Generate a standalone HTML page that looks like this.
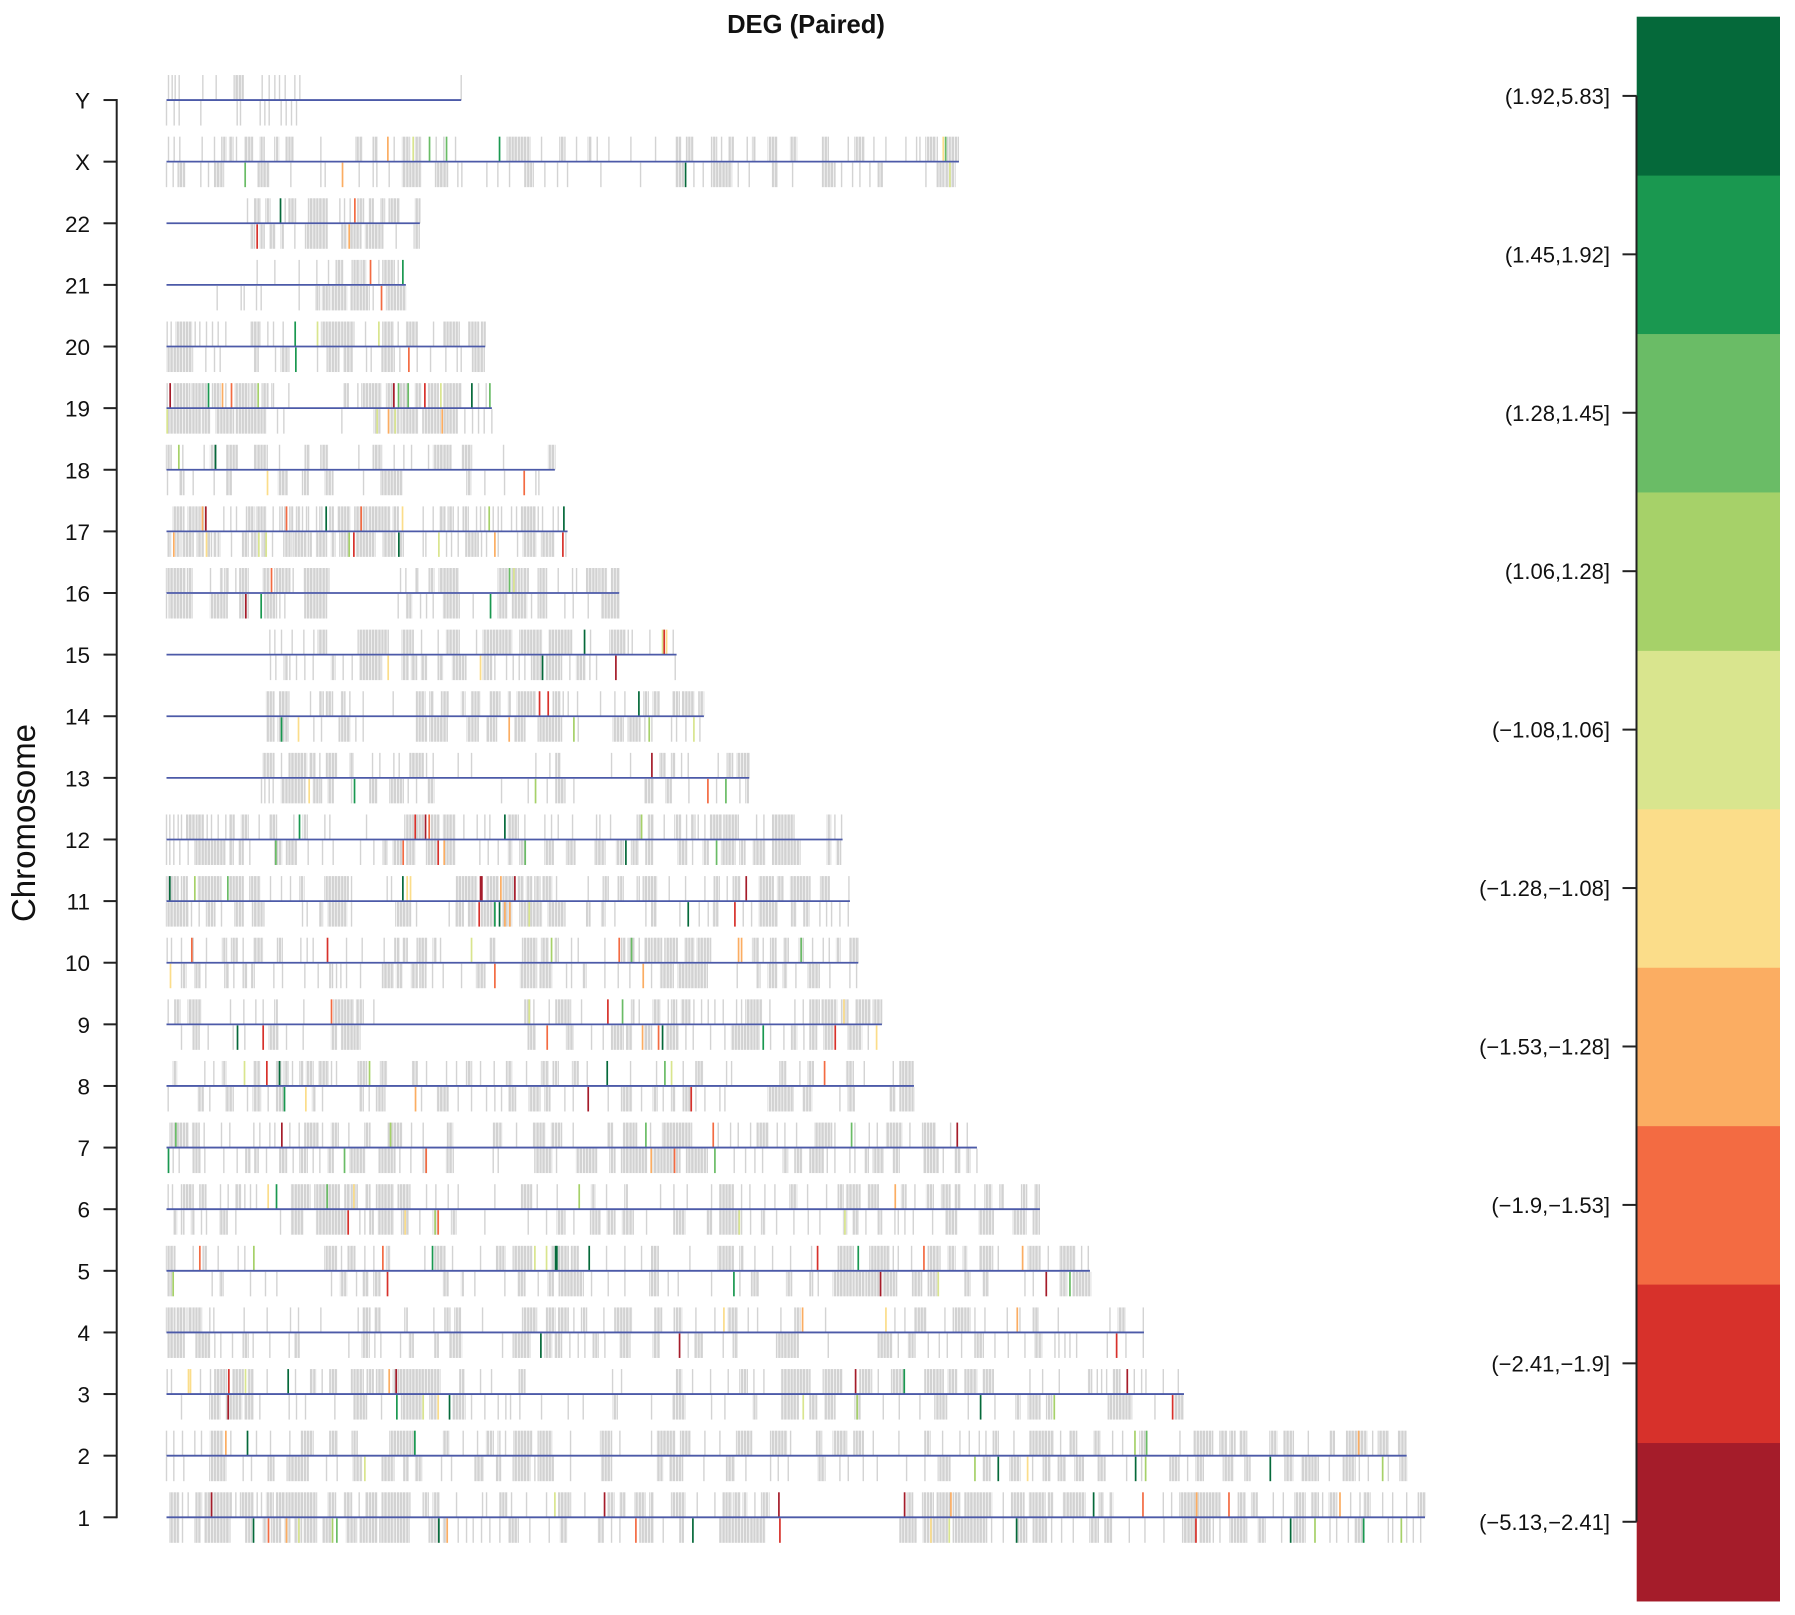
<!DOCTYPE html>
<html lang="en">
<head>
<meta charset="utf-8">
<title>DEG (Paired)</title>
<style>
html,body{margin:0;padding:0;background:#fff;}
svg{display:block;font-family:"Liberation Sans",Arial,sans-serif;}
</style>
</head>
<body>
<svg id="chart" xmlns="http://www.w3.org/2000/svg" width="1795" height="1615" viewBox="0 0 1795 1615">
<defs>
<pattern id="cluster-stripes" patternUnits="userSpaceOnUse" x="0" y="0" width="9.3" height="10">
<rect x="0" y="0" width="2.3" height="10" fill="#d2d2d2"/>
<rect x="2.9" y="0" width="2.6" height="10" fill="#d2d2d2"/>
<rect x="6.2" y="0" width="2.5" height="10" fill="#d2d2d2"/>
</pattern>
</defs>
</svg>
<script>
// Genomic positions are in bins of about 66 kb. A number is one gene, a pair is a dense gene cluster [start, end].
// Hits are [bin, log fold change].
const chromosomes = ['1','2','3','4','5','6','7','8','9','10','11','12','13','14','15','16','17','18','19','20','21','22','X','Y'];
const chrLengths = [3775,3720,3052,2932,2770,2620,2431,2242,2146,2075,2050,2028,1748,1612,1530,1358,1203,1165,976,956,718,760,2377,884];
const foldBreaks = [-5.13,-2.41,-1.9,-1.53,-1.28,-1.08,1.06,1.28,1.45,1.92,5.83];
const legendLabels = ['(\u22125.13,\u22122.41]','(\u22122.41,\u22121.9]','(\u22121.9,\u22121.53]','(\u22121.53,\u22121.28]','(\u22121.28,\u22121.08]','(\u22121.08,1.06]','(1.06,1.28]','(1.28,1.45]','(1.45,1.92]','(1.92,5.83]'];
const palette = ['#a51c2a','#d7312b','#f36b42','#fbad62','#fbdd8a','#d9e58e','#a6d169','#6abc66','#1a9850','#05693a'];

const chr1Up = [[10,37],48,65,[88,105],[115,130],[140,195],208,[222,260],272,285,[300,320],[330,355],[360,450],[485,507],[533,555],578,[598,630],[647,660],[665,730],[770,785],[800,818],870,948,960,[1000,1020],1035,1080,1140,[1175,1212],1255,[1325,1342],[1360,1375],[1405,1435],[1450,1460],[1515,1555],1592,1645,[1670,1695],[1702,1720],[1730,1740],1765,[1785,1807],[2222,2238],[2268,2300],[2312,2350],[2360,2380],[2395,2475],2510,[2535,2572],[2588,2635],[2645,2658],[2690,2755],[2798,2810],[2830,2838],2990,3015,[3040,3090],[3095,3160],[3215,3235],[3255,3272],3320,3350,[3385,3415],[3435,3455],3468,[3488,3510],3552,3580,[3592,3610],3648,3678,3720,[3755,3775]];
const chr1UpHits = [[135,-3],[1165,0],[1314,-3],[1837,-3],[2214,-3],[2353,-1.4],[2781,3],[2929,-1.7],[3090,-1.4],[3187,-1.7],[3520,-1.4]];
const chr1Down = [[10,37],48,[85,100],[115,190],[238,255],[290,300],[315,342],[355,370],[385,405],[412,450],[470,495],[540,570],[580,600],[605,630],[640,680],[685,728],[788,815],[830,840],875,900,920,945,970,1000,[1028,1055],1090,1148,[1182,1200],[1295,1310],1335,1360,[1420,1460],1490,[1540,1550],[1660,1700],[1705,1745],[1750,1795],[2200,2248],[2270,2315],[2320,2345],[2360,2460],2475,2510,[2555,2580],[2600,2640],2655,2685,2720,[2770,2795],[2815,2835],2888,2935,2992,[3048,3085],[3100,3130],3140,3160,[3190,3240],[3275,3295],3345,[3380,3415],3490,3510,3545,[3565,3588],3665,3678,3720,3740,3762];
const chr1DownHits = [[261,3],[306,-1.7],[360,-1.4],[397,0],[498,1.2],[511,1.35],[817,3],[842,-1.4],[1408,-1.7],[1579,3],[1840,-2.1],[2293,-1.2],[2348,0],[2550,3],[3088,-2.1],[3372,3],[3445,1.2],[3591,1.7],[3704,1.2]];

const chr2Up = [0,22,48,85,105,[132,168],193,270,312,370,[405,440],[490,512],[557,572],[670,740],[830,847],890,933,[960,980],[995,1000],1017,[1042,1095],[1115,1155],1212,[1302,1335],1360,1455,[1472,1525],[1542,1570],1615,1660,[1710,1755],[1812,1860],1872,[1950,1965],[2000,2040],[2062,2090],2120,2197,[2275,2290],2328,2380,2408,2438,2458,[2480,2495],2542,[2590,2660],2682,[2710,2730],[2782,2800],2838,2868,[2920,2935],3040,[3083,3095],[3100,3138],[3160,3180],[3190,3205],[3220,3240],[3310,3330],[3352,3380],3425,[3490,3503],[3540,3575],[3580,3600],3618,[3635,3665],[3695,3718]];
const chr2UpHits = [[178,-1.4],[243,3],[745,1.7],[2905,1.2],[2940,1.35],[3576,-1.4]];
const chr2Down = [0,22,52,[130,178],230,255,[305,322],[362,425],480,512,[560,585],[647,682],[712,725],[747,765],825,855,[925,950],[990,1002],[1040,1090],1105,[1115,1160],1212,[1305,1335],[1472,1488],[1510,1548],1612,[1680,1703],1738,1812,1835,1865,[1955,1975],2020,2045,2090,2132,2220,2275,[2315,2350],[2450,2470],[2530,2560],2598,[2630,2650],[2675,2695],[2725,2750],[2795,2815],2880,2925,[3010,3037],3063,[3088,3110],[3170,3200],[3235,3250],[3355,3378],[3405,3455],3488,[3530,3565],3578,3605,3665,[3700,3720]];
const chr2DownHits = [[595,0],[2425,1.2],[2495,3],[2583,-1.2],[2907,3],[2937,1.2],[3311,3],[3648,1.2]];

const chr3Up = [2,15,102,132,[145,180],[200,230],[245,260],302,387,[432,447],467,[490,510],[555,590],[602,620],[630,650],[680,688],[695,780],[785,820],[880,892],942,975,[1058,1075],1338,1365,[1530,1545],1578,1632,1685,[1720,1742],1762,1792,[1845,1930],[1970,2025],[2080,2115],2135,[2175,2210],[2275,2295],[2300,2330],[2345,2370],[2395,2430],[2450,2480],2590,2628,2678,[2765,2775],2792,2805,2820,[2840,2860],2903,2925,2938,2990,3035];
const chr3UpHits = [[66,-1.2],[72,-1.2],[187,-2.1],[237,0],[365,3],[668,-1.4],[689,-3],[2067,-3],[2213,1.7],[2882,-3]];
const chr3Down = [45,[130,160],180,[190,225],[235,260],280,368,390,417,505,[562,600],645,[705,765],[790,810],[860,895],915,955,995,1018,1032,1060,1125,1205,1250,[1340,1352],1455,[1520,1555],1635,1675,[1760,1770],[1845,1895],[1930,1950],[1975,2005],[2065,2080],2150,2198,2260,[2305,2340],2405,2485,[2548,2560],[2585,2620],[2640,2655],[2825,2895],2965,[3025,3050]];
const chr3DownHits = [[185,-3],[691,1.7],[770,0],[815,-1.2],[849,3],[1910,0],[2072,1.2],[2442,3],[2663,1.2],[3018,-2.1]];

const chr4Up = [[0,25],[32,58],[65,75],[80,105],130,142,233,302,372,396,463,575,[590,610],[625,640],[715,722],802,[835,850],[865,882],948,[1068,1110],[1140,1165],[1175,1205],1222,[1245,1260],1312,[1345,1395],[1465,1485],[1523,1545],1588,1645,[1685,1712],1745,1773,1843,[1885,1900],1977,2185,2215,[2245,2278],2335,[2360,2410],2425,2455,2522,2560,[2600,2615],2675,2830,[2855,2875],2930];
const chr4UpHits = [[1672,-1.2],[1908,-1.4],[2158,-1.2],[2552,-1.4]];
const chr4Down = [[5,53],[88,130],145,163,198,[230,245],260,310,368,[385,398],547,[587,608],625,643,702,[728,740],[805,815],[850,885],1008,[1040,1090],[1135,1155],[1165,1185],1210,1235,1255,[1280,1295],1315,[1360,1390],[1460,1478],1565,[1585,1607],1670,[1700,1712],[1830,1895],1985,[2135,2175],2195,[2225,2245],2285,2318,2342,2385,[2425,2450],2485,2525,2575,[2605,2625],2665,2677,2695,2710,2730,2822,2878,2930];
const chr4DownHits = [[1123,3],[1539,-3],[2850,-2.1]];

const chr5Up = [[0,25],80,[110,120],155,215,235,[475,510],525,[545,565],595,622,[660,670],775,[805,835],858,942,[990,1015],[1040,1095],[1155,1165],[1175,1205],[1215,1235],1320,1375,1425,[1455,1475],1570,[1655,1700],[1720,1730],1765,1818,1872,1935,[2015,2060],[2110,2168],2180,2195,2235,[2285,2320],[2345,2365],[2390,2400],[2440,2478],2495,[2585,2620],2645,[2680,2725],2745,2765];
const chr5UpHits = [[100,-1.7],[262,1.2],[649,-1.7],[798,1.7],[1105,0],[1140,0],[1167,3],[1171,3],[1268,3],[1953,-2.1],[2075,1.7],[2272,-1.7],[2568,-1.4]];
const chr5Down = [[5,15],137,[160,170],252,297,331,495,[522,540],570,[590,605],[622,640],[830,845],[885,890],925,1015,[1055,1075],1115,[1145,1160],[1178,1250],1275,1325,1375,[1450,1475],1505,1535,1635,1720,[1755,1775],[1860,1875],[1930,1938],1955,[2000,2060],[2065,2095],[2100,2140],[2150,2190],[2238,2265],[2285,2310],[2395,2410],[2450,2465],2575,2600,[2680,2700],[2720,2772]];
const chr5DownHits = [[20,1.2],[663,-2.1],[1702,1.7],[2142,-3],[2315,0],[2639,-3],[2710,1.35]];

const chr6Up = [5,18,[45,80],[100,118],162,185,[208,222],235,252,270,[375,430],[445,480],[485,518],[535,550],[555,572],[598,610],[630,680],[695,730],780,808,845,875,985,[1065,1095],1112,1172,[1275,1285],1320,[1375,1382],1482,1522,1562,1635,[1660,1700],1725,1750,1795,1825,[1870,1890],1923,1980,[2015,2030],[2040,2080],[2105,2135],[2205,2218],2245,[2280,2300],[2325,2350],[2365,2380],2425,[2455,2475],[2500,2510],[2565,2580],[2605,2618]];
const chr6UpHits = [[305,-1.2],[330,1.7],[482,1.35],[562,-1.2],[1238,1.2],[2186,-1.4]];
const chr6Down = [[22,30],[45,52],[75,82],105,120,[160,182],208,342,[375,410],[450,540],580,595,[610,620],[635,680],[705,725],760,[800,812],[855,868],955,1085,1140,[1172,1195],1222,[1272,1300],[1322,1345],[1368,1400],1440,[1522,1555],[1622,1635],[1660,1700],[1705,1725],1752,[1785,1795],1830,1882,1925,1960,[2030,2040],[2060,2075],2098,[2135,2145],2185,2195,2215,2240,2298,[2338,2370],[2438,2480],[2540,2578],[2600,2618]];
const chr6DownHits = [[545,-2.1],[716,-1.2],[806,1.2],[815,-1.7],[1718,0],[2035,0]];

const chr7Up = [[10,65],[78,98],113,165,190,262,280,310,325,370,398,[415,455],468,[495,515],547,[595,610],[665,705],735,770,[843,858],[980,1005],1050,[1100,1135],[1155,1185],1220,[1325,1338],[1370,1410],1452,[1488,1575],1655,1692,1715,1752,[1772,1805],1832,1855,1890,[1945,1995],2005,2065,2108,2132,[2160,2205],2230,[2268,2305],2352,2402];
const chr7UpHits = [[28,1.35],[346,-3],[672,1.2],[1438,1.35],[1640,-1.7],[2055,1.35],[2372,-3]];
const chr7Down = [20,38,[80,100],115,172,212,[238,250],[265,275],300,[340,360],380,[400,422],440,460,[485,500],[550,595],[638,685],700,733,[770,778],[840,860],980,995,[1105,1155],1170,[1230,1290],[1330,1345],[1365,1440],[1460,1520],[1530,1540],[1560,1622],1703,1737,1765,1788,[1850,1863],[1885,1905],[1930,1970],1982,2005,2050,2065,[2095,2105],[2120,2150],[2180,2198],[2272,2315],2330,[2365,2380],[2400,2410],2431];
const chr7DownHits = [[6,1.7],[534,1.35],[779,-1.7],[1454,-1.4],[1524,-1.7],[1645,1.35]];

const chr8Up = [[20,30],115,142,[168,178],[262,280],[330,345],[353,365],378,[400,410],[420,440],[457,485],495,510,[575,600],[642,660],[738,752],780,840,870,[900,915],942,983,[1020,1035],1080,[1125,1145],[1160,1175],[1218,1235],1262,1392,1470,1550,[1588,1608],1680,1695,[1840,1857],1900,[1925,1940],[2040,2060],2093,2180,[2200,2240]];
const chr8UpHits = [[234,0],[301,-2.1],[339,3],[609,1.2],[1322,3],[1495,1.35],[1515,0],[1974,-1.7]];
const chr8Down = [5,[95,110],130,[178,200],243,[260,282],305,[330,350],[438,445],468,[580,590],608,[630,655],765,[812,845],875,915,960,985,1005,[1028,1047],[1088,1120],[1135,1150],1195,1220,1325,[1365,1395],1425,[1460,1472],1490,[1515,1525],[1550,1570],1588,1615,1660,1675,[1805,1880],[1910,1935],2020,[2045,2063],[2170,2185],[2200,2242]];
const chr8DownHits = [[354,1.7],[418,-1.2],[747,-1.4],[1265,-3],[1574,-2.1]];

const chr9Up = [5,[25,40],[65,103],192,232,268,290,[325,332],412,[502,560],[570,590],622,[1075,1090],1102,1148,[1168,1212],1245,[1395,1402],1418,[1460,1480],1505,[1515,1530],[1545,1570],1582,1605,1625,1645,1670,1710,1725,[1738,1785],1810,1885,1910,[1930,1958],[1967,2010],[2025,2045],[2068,2110],[2120,2145]];
const chr9UpHits = [[495,-1.7],[1088,0],[1324,-2.1],[1368,1.35],[2032,-1.2]];
const chr9Down = [45,[80,98],125,200,235,[308,335],360,410,[495,510],[525,580],[1085,1105],[1200,1220],1275,1310,[1335,1370],[1380,1395],[1435,1455],[1500,1535],1558,1580,1632,1675,[1695,1778],1812,1852,[1875,1890],1912,[1930,1950],[1972,2000],[2045,2085],2105];
const chr9DownHits = [[213,3],[290,-2.1],[1142,-1.7],[1428,-1.4],[1476,-1.7],[1488,3],[1790,1.7],[2006,-2.1],[2130,-1.2]];

const chr10Up = [2,15,45,80,120,[168,180],[195,212],230,[262,288],[333,347],403,422,440,540,587,653,[685,698],[710,722],[752,780],[800,808],822,[970,985],[1068,1110],[1125,1145],[1165,1175],1215,1235,1315,[1365,1375],[1385,1402],1418,[1435,1455],[1460,1485],[1495,1532],[1555,1582],[1592,1632],[1758,1775],1790,[1812,1828],[1852,1865],[1898,1910],1938,1970,1988,[2010,2020],[2050,2075]];
const chr10UpHits = [[76,-1.7],[483,-2.1],[915,0],[1155,1.2],[1358,-1.7],[1395,1.35],[1716,-1.4],[1725,-1.4],[1904,1.35]];
const chr10Down = [[45,58],[85,100],118,[175,185],202,[230,240],[255,263],322,348,415,455,[490,498],510,523,540,582,[648,680],[690,706],[735,752],[760,778],798,830,885,[930,955],[1062,1085],[1090,1110],[1120,1155],1200,1215,[1250,1258],1315,1355,1390,1455,[1482,1520],[1535,1622],1712,[1772,1780],[1805,1830],[1850,1860],1888,[1925,1958],1990,2050,2070];
const chr10DownHits = [[12,-1.2],[985,-1.7],[1430,-1.4]];

const chr11Up = [[0,8],[15,35],[45,62],[95,163],[190,230],[250,280],312,345,372,[400,412],[475,545],555,662,675,[870,930],[960,995],[1010,1040],[1055,1070],[1080,1095],[1105,1120],[1130,1155],1170,1265,[1310,1325],[1355,1370],[1412,1418],[1430,1470],1508,1557,1615,[1643,1658],1682,[1700,1720],[1778,1820],[1833,1850],[1872,1930],[1962,1988],2047];
const chr11UpHits = [[10,3],[85,1.2],[184,1.35],[709,3],[722,-1.2],[732,-1.2],[942,-3],[946,-3],[1003,-1.4],[1045,-3],[1739,-3]];
const chr11Down = [[0,65],75,98,[120,145],165,[205,230],[258,292],408,422,[460,468],[485,540],555,[688,732],750,848,[868,890],[905,925],[945,980],[1010,1035],[1060,1125],[1145,1195],[1260,1270],[1305,1315],1345,1438,[1455,1468],1540,1598,1625,[1640,1655],1730,1755,[1778,1832],[1875,1888],[1912,1927],1960,1980,1995,2020,2045];
const chr11DownHits = [[938,-2.1],[985,1.7],[999,3],[1015,-1.4],[1030,-1.4],[1088,0],[1565,3],[1705,-2.1]];

const chr12Up = [0,10,22,35,45,[60,85],[90,110],122,135,155,178,[190,203],[225,245],278,[310,330],382,[410,422],475,490,600,[715,740],[750,772],[795,818],[830,865],892,932,955,970,[1025,1055],1075,1135,1155,1175,1218,1290,1300,1332,[1412,1420],[1445,1460],1493,[1525,1542],1560,[1575,1585],1595,1615,[1632,1665],[1672,1715],1770,1792,[1818,1850],[1855,1882],[1982,1992],2005,2025];
const chr12UpHits = [[399,1.7],[746,-2.1],[777,-3],[788,-1.7],[1015,3],[1425,1.2]];
const chr12Down = [0,10,22,40,65,[85,175],[190,200],[218,230],250,[325,345],[360,390],425,468,500,582,622,[650,662],[680,705],[720,745],[780,810],[835,865],940,965,995,[1025,1035],[1060,1075],[1135,1160],[1200,1225],[1285,1315],[1350,1370],[1395,1415],[1438,1458],[1535,1560],1578,[1610,1625],[1665,1705],[1720,1735],[1760,1795],[1818,1900],[1982,1992],[2010,2022]];
const chr12DownHits = [[328,1.35],[710,-1.7],[815,-2.1],[833,-1.4],[1076,1.35],[1378,3],[1650,1.35]];

const chr13Up = [[290,322],345,[368,420],[430,445],460,[480,510],[550,560],618,640,682,698,[730,770],780,800,875,915,1108,1150,[1168,1180],1335,1392,[1480,1495],[1515,1525],1545,1565,1655,[1682,1698],[1712,1748]];
const chr13UpHits = [[1456,-3]];
const chr13Down = [285,295,308,320,[345,390],[395,415],[440,460],465,[485,500],555,[610,630],[670,710],725,750,[785,802],1005,1085,1142,[1168,1195],1222,[1435,1460],[1498,1515],1567,1650,1720,[1738,1745]];
const chr13DownHits = [[428,-1.2],[564,1.7],[1107,1.2],[1624,-1.7],[1678,1.35]];

const chr14Up = [[300,322],[338,367],432,[460,470],[480,498],[525,535],550,590,680,[750,775],[790,800],[825,845],[885,895],[915,940],[970,1000],[1025,1032],[1052,1105],[1160,1180],1190,1205,1233,1302,1345,1375,[1432,1445],[1460,1478],[1520,1538],[1548,1582],[1597,1611]];
const chr14UpHits = [[1119,-2.1],[1145,-2.1],[1417,3]];
const chr14Down = [[302,322],[335,365],442,465,[518,550],568,590,[750,780],[790,842],[902,935],[962,990],[1045,1075],[1115,1185],1235,[1340,1370],[1385,1420],1435,1456,1515,1530,1558,1600];
const chr14DownHits = [[345,1.7],[396,-1.2],[1028,-1.4],[1222,1.2],[1448,1.2],[1582,0]];

const chr15Up = [310,325,345,377,412,442,[455,480],[575,665],[707,740],765,815,[840,878],930,[950,1035],[1060,1125],[1148,1215],1272,[1330,1375],1385,1397,1450,1520];
const chr15UpHits = [[1254,3],[1488,0],[1493,-2.1],[1500,-1.2]];
const chr15Down = [312,328,[353,362],370,390,415,440,[495,505],530,557,[580,645],[707,725],[735,750],[765,780],[815,828],[858,898],[950,975],985,1020,1040,1058,1075,[1095,1125],[1140,1185],1210,[1230,1255],1270,1290,1526];
const chr15DownHits = [[665,-1.2],[942,-1.2],[1128,3],[1348,-3]];

const chr16Up = [[0,55],[63,77],132,[162,168],[175,185],208,[220,245],[290,308],[325,350],[355,370],380,[413,487],702,718,[748,755],[788,802],[818,875],[995,1025],[1035,1050],[1055,1065],[1070,1085],[1115,1140],1175,1218,1230,[1260,1295],[1300,1320],[1335,1358]];
const chr16UpHits = [[315,-1.7],[1029,1.35],[1042,0]];
const chr16Down = [0,[8,77],[132,182],[220,235],245,[295,330],340,355,[415,480],695,[720,735],762,780,800,[830,878],920,[995,1020],[1038,1080],1095,[1115,1140],1195,1220,1265,[1305,1358]];
const chr16DownHits = [[238,-3],[284,1.7],[972,1.7]];

const chr17Up = [[20,28],[32,40],[44,52],[65,80],[85,95],[100,115],172,193,210,[240,262],[270,298],320,340,347,355,[370,378],[390,400],408,420,426,450,460,466,[490,500],[515,550],[565,580],[590,600],[606,670],[680,695],770,800,[820,835],[845,860],875,[890,905],930,942,955,980,995,1005,1035,1050,[1065,1105],1115,1128,1160,1175];
const chr17UpHits = [[108,-1.4],[118,-3],[360,-1.7],[479,3],[584,-1.7],[708,-1.2],[968,1.2],[1192,3]];
const chr17Down = [[5,12],[28,40],[47,80],[92,110],[125,135],[142,148],[155,160],195,[228,245],[255,272],[287,295],318,[352,374],[380,420],[426,434],[450,480],[495,505],[520,545],[570,625],[650,685],[702,710],770,778,840,855,875,[898,935],945,960,995,1053,[1070,1108],[1125,1145],[1150,1162],1198];
const chr17DownHits = [[22,-1.4],[120,-1.2],[277,0],[299,0],[548,1.2],[562,-2.1],[697,3],[817,0],[985,-1.4],[1189,-2.1]];

const chr18Up = [[0,14],49,113,[132,149],[181,212],[264,302],339,[416,428],[463,483],577,[620,645],683,712,735,786,[801,853],[887,915],1011,[1146,1165]];
const chr18UpHits = [[37,1.2],[147,3]];
const chr18Down = [3,[40,52],80,143,[181,195],[336,362],[408,425],[476,499],591,[643,706],[901,913],955,1014,1108,1117];
const chr18DownHits = [[303,-1.2],[1073,-1.7]];

const chr19Up = [2,[23,69],[75,121],[138,161],178,[206,247],[253,270],[287,304],[316,321],367,[532,545],574,[586,643],[660,677],[701,724],[746,763],[786,815],[832,884],936,959];
const chr19UpHits = [[11,-3],[126,1.7],[168,-1.4],[195,-1.7],[275,1.2],[682,-3],[696,1.35],[725,1.35],[775,-2.1],[823,0],[916,3],[970,1.35]];
const chr19Down = [[6,103],[109,130],[149,201],[210,298],333,352,526,[623,640],[672,700],[706,754],[769,821],[832,872],895,918,936,953,976];
const chr19DownHits = [[2,0],[632,0],[666,-1.4],[686,0],[827,-1.4]];

const chr20Up = [2,14,[29,75],86,100,120,138,155,178,[253,281],304,321,350,[465,562],597,[649,680],695,[720,752],801,[832,878],[907,936],[945,956]];
const chr20UpHits = [[386,1.7],[453,0],[637,0]];
const chr20Down = [[2,78],118,144,161,[264,275],327,[344,367],453,[482,517],[532,557],600,614,[646,683],700,752,792,838,872,884,[918,953]];
const chr20DownHits = [[388,1.7],[727,-1.7]];

const chr21Up = [272,325,398,451,486,[509,528],[557,580],[586,597],637,[649,683],695];
const chr21UpHits = [[612,-1.7],[709,1.7]];
const chr21Down = [152,224,233,270,284,398,[448,459],[467,488],[494,540],[554,608],620,[660,717]];
const chr21DownHits = [[645,-1.7]];

const chr22Up = [243,[264,281],[298,310],356,[367,387],[426,482],520,534,551,[574,591],[608,620],[643,654],[668,698],[746,760]];
const chr22UpHits = [[342,3],[565,-1.7]];
const chr22Down = [[253,264],[281,293],[310,325],[344,350],385,[417,482],[526,540],[551,583],[597,649],689,[743,758]];
const chr22DownHits = [[272,-2.1],[548,-1.4]];

const chrXUp = [6,23,40,107,144,[166,178],[189,199],210,[235,258],[281,293],[325,336],[359,379],463,[568,586],[620,631],683,[708,729],[746,763],809,832,867,[1022,1090],1125,[1180,1195],1230,[1265,1273],1292,1327,1393,1467,[1528,1542],[1560,1578],[1635,1650],1665,[1688,1700],1742,[1758,1765],[1805,1830],[1872,1890],[1968,1985],2045,[2065,2092],2122,2158,2218,2250,2260,[2278,2305],2312,[2342,2375]];
const chrXUpHits = [[664,-1.4],[740,0],[789,1.35],[840,1.35],[999,1.7],[2330,-1.2],[2337,1.35]];
const chrXDown = [0,20,[35,54],103,126,[144,171],[275,307],373,463,476,578,620,631,668,[708,763],[807,843],874,886,961,994,1029,[1075,1100],1135,1173,1203,1303,1422,[1528,1550],1582,1610,[1635,1695],1715,1748,[1817,1832],1878,[1968,2005],2025,2058,2080,2110,[2135,2148],2278,[2312,2330],[2335,2365]];
const chrXDownHits = [[236,1.35],[528,-1.4],[1557,3],[2350,0]];

const chrYUp = [6,17,26,38,109,149,[203,230],287,308,325,339,356,385,400,884];
const chrYUpHits = [];
const chrYDown = [0,23,38,103,212,222,281,295,308,344,359,375,390];
const chrYDownHits = [];

const upGenes = [chr1Up,chr2Up,chr3Up,chr4Up,chr5Up,chr6Up,chr7Up,chr8Up,chr9Up,chr10Up,chr11Up,chr12Up,chr13Up,chr14Up,chr15Up,chr16Up,chr17Up,chr18Up,chr19Up,chr20Up,chr21Up,chr22Up,chrXUp,chrYUp];
const upHits = [chr1UpHits,chr2UpHits,chr3UpHits,chr4UpHits,chr5UpHits,chr6UpHits,chr7UpHits,chr8UpHits,chr9UpHits,chr10UpHits,chr11UpHits,chr12UpHits,chr13UpHits,chr14UpHits,chr15UpHits,chr16UpHits,chr17UpHits,chr18UpHits,chr19UpHits,chr20UpHits,chr21UpHits,chr22UpHits,chrXUpHits,chrYUpHits];
const downGenes = [chr1Down,chr2Down,chr3Down,chr4Down,chr5Down,chr6Down,chr7Down,chr8Down,chr9Down,chr10Down,chr11Down,chr12Down,chr13Down,chr14Down,chr15Down,chr16Down,chr17Down,chr18Down,chr19Down,chr20Down,chr21Down,chr22Down,chrXDown,chrYDown];
const downHits = [chr1DownHits,chr2DownHits,chr3DownHits,chr4DownHits,chr5DownHits,chr6DownHits,chr7DownHits,chr8DownHits,chr9DownHits,chr10DownHits,chr11DownHits,chr12DownHits,chr13DownHits,chr14DownHits,chr15DownHits,chr16DownHits,chr17DownHits,chr18DownHits,chr19DownHits,chr20DownHits,chr21DownHits,chr22DownHits,chrXDownHits,chrYDownHits];

const NS = 'http://www.w3.org/2000/svg';
const svg = document.getElementById('chart');

function xScale(bin) { return 166.5 + bin * (1258.5 / 3775); }
function yScale(rowIndex) { return 1517.3 - rowIndex * 61.62; }
function legendTop(level) { return 16.7 + (palette.length - 1 - level) * 158.43; }
function levelOf(value) {
  for (let i = 0; i < palette.length; i++) {
    if (value <= foldBreaks[i + 1]) return i;
  }
  return palette.length - 1;
}
function make(tag, attrs, parent) {
  const el = document.createElementNS(NS, tag);
  for (const k in attrs) el.setAttribute(k, attrs[k]);
  (parent || svg).appendChild(el);
  return el;
}
function drawGenes(list, top, height, group) {
  list.forEach(function (g) {
    const isCluster = Array.isArray(g);
    const a = isCluster ? g[0] : g;
    const b = isCluster ? g[1] : g;
    const x0 = xScale(a) - 0.7;
    const x1 = xScale(b) + 0.7;
    const el = make('rect', {x: x0, y: top, width: x1 - x0, height: height, fill: isCluster ? 'url(#cluster-stripes)' : '#d3d3d3'}, group);
    
    
  });
}
function drawHits(list, top, height, group) {
  list.forEach(function (h) {
    const el = make('rect', {x: xScale(h[0]) - 0.85, y: top, width: 1.7, height: height, fill: palette[levelOf(h[1])]}, group);
    
    
  });
}

// title
const title = make('text', {x: 806, y: 33, 'text-anchor': 'middle', 'font-size': 25.6, 'font-weight': 'bold', fill: '#111'});
title.textContent = 'DEG (Paired)';



// y axis title
const yTitle = make('text', {x: 0, y: 0, transform: 'translate(35,823) rotate(-90)', 'text-anchor': 'middle', 'font-size': 33, fill: '#111'});
yTitle.textContent = 'Chromosome';



// y axis
const axisLine = make('line', {x1: 116.7, x2: 116.7, y1: yScale(chromosomes.length - 1) - 1, y2: yScale(0) + 1, stroke: '#222', 'stroke-width': 2});



chromosomes.forEach(function (name, i) {
  const y = yScale(i);
  const group = make('g', {});
  
  

  drawGenes(upGenes[i], y - 25, 25, group);
  drawGenes(downGenes[i], y + 1, 24.5, group);
  drawHits(upHits[i], y - 25, 25, group);
  drawHits(downHits[i], y + 1, 24.5, group);

  const base = make('line', {x1: xScale(0), x2: xScale(chrLengths[i]), y1: y, y2: y, stroke: '#4c5aa8', 'stroke-width': 1.8}, group);
  
  

  const tick = make('line', {x1: 103.5, x2: 116.7, y1: y, y2: y, stroke: '#222', 'stroke-width': 2});
  
  

  const label = make('text', {x: 90, y: y + 8.5, 'text-anchor': 'end', 'font-size': 22.5, fill: '#111'});
  label.textContent = name;
  
  
});

// colour legend
palette.forEach(function (color, level) {
  const top = legendTop(level);
  const seg = make('rect', {x: 1636.7, y: top, width: 143.3, height: 158.9, fill: color});
  
  
  const mid = top + 79.2;
  const tick = make('line', {x1: 1622.5, x2: 1636.7, y1: mid, y2: mid, stroke: '#222', 'stroke-width': 2});
  
  
  const label = make('text', {x: 1610, y: mid + 8, 'text-anchor': 'end', 'font-size': 22, fill: '#111'});
  label.textContent = legendLabels[level];
  
  
});
const legendAxis = make('line', {x1: 1636.5, x2: 1636.5, y1: legendTop(palette.length - 1) + 79.2, y2: legendTop(0) + 79.2, stroke: '#222', 'stroke-width': 2});


</script>
</body>
</html>
